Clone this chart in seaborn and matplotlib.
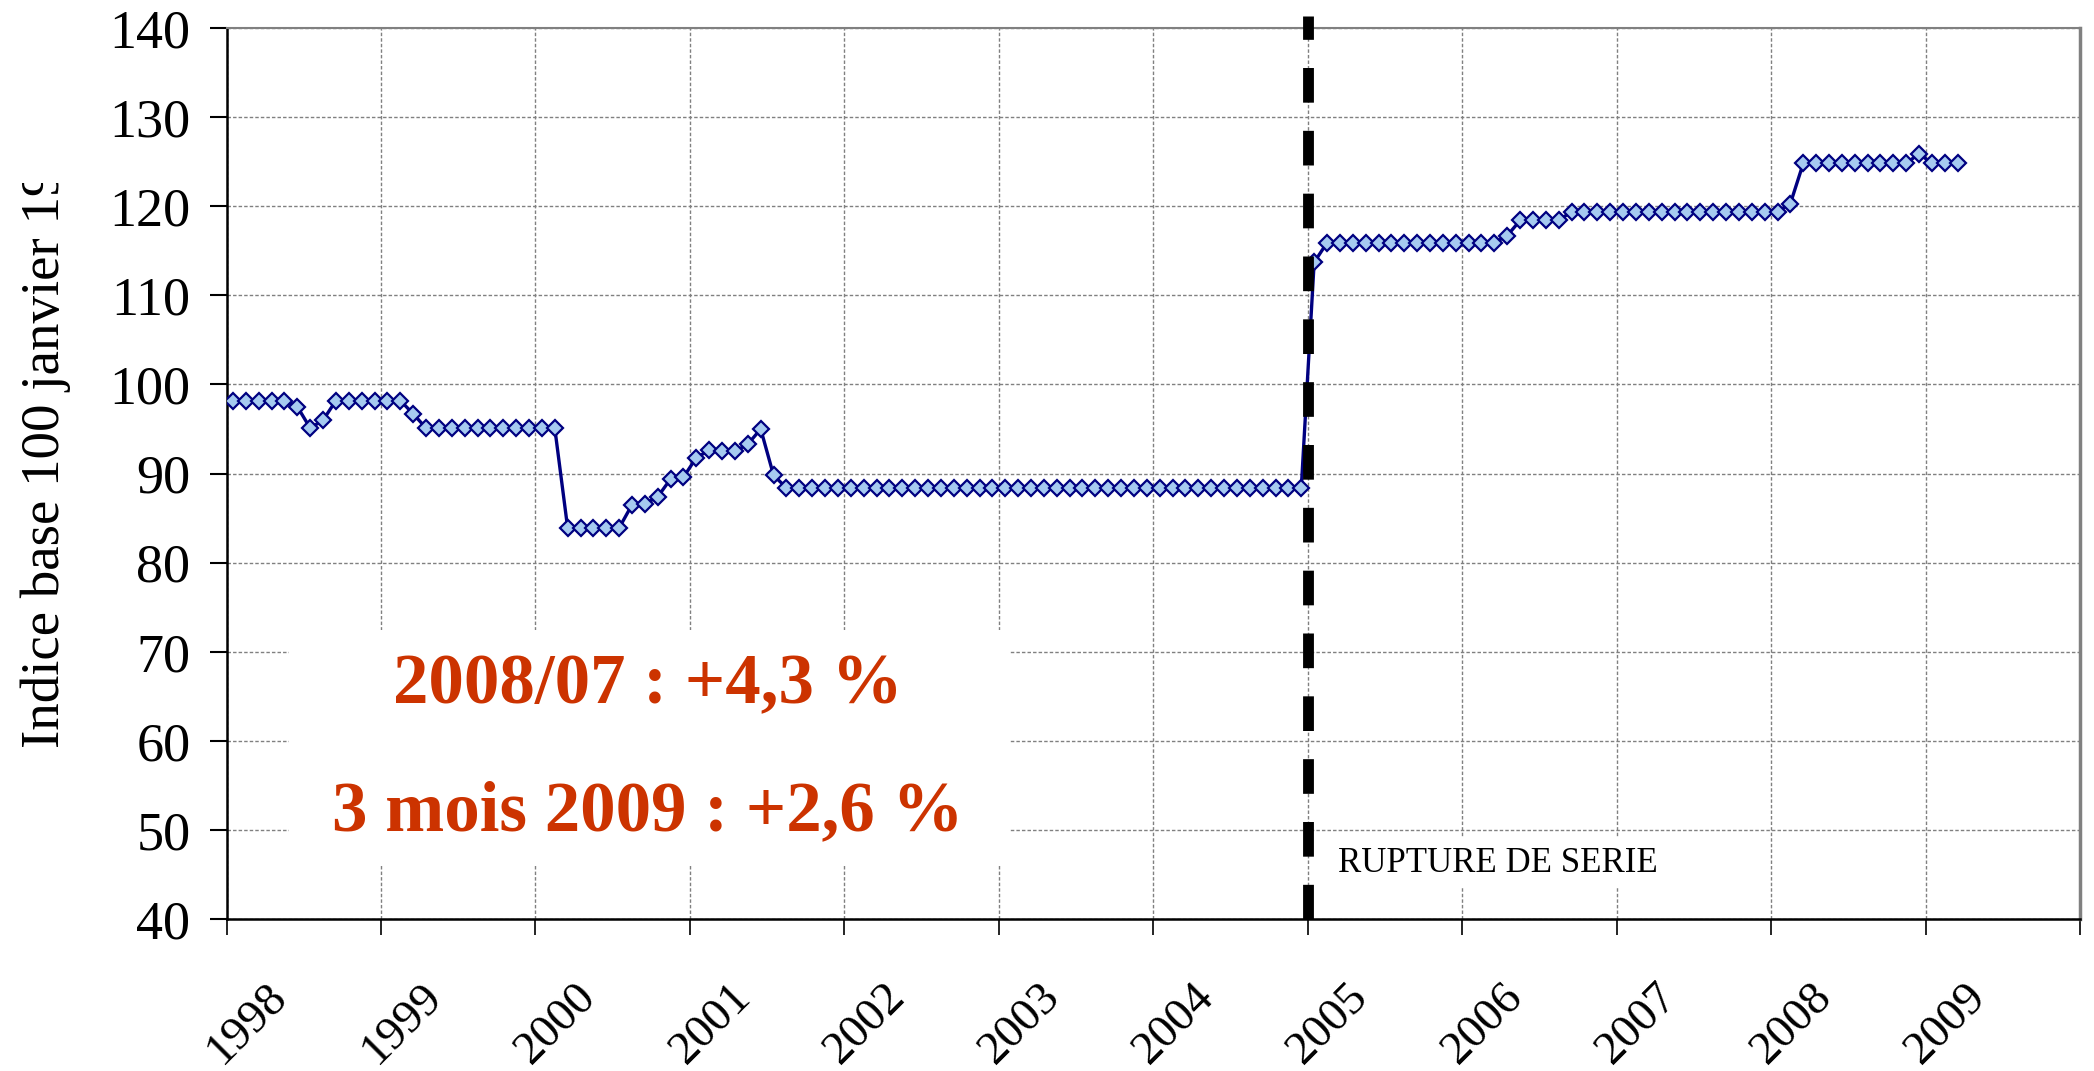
import matplotlib
matplotlib.use('Agg')
import numpy as np
import pandas as pd
import matplotlib.pyplot as plt
import seaborn as sns
from matplotlib.patches import Rectangle
from matplotlib.transforms import Bbox, TransformedBbox, ScaledTranslation

# Indice mensuel (base 100 janvier 1998), une liste par année
values_1998 = [98.2, 98.2, 98.2, 98.2, 98.2, 97.5, 95.1, 96.0, 98.2, 98.2, 98.2, 98.2]
values_1999 = [98.2, 98.2, 96.7, 95.1, 95.1, 95.1, 95.1, 95.1, 95.1, 95.1, 95.1, 95.1]
values_2000 = [95.1, 95.1, 83.9, 83.9, 83.9, 83.9, 83.9, 86.5, 86.6, 87.4, 89.4, 89.6]
values_2001 = [91.8, 92.6, 92.5, 92.5, 93.3, 95.0, 89.8, 88.4, 88.4, 88.4, 88.4, 88.4]
values_2002 = [88.4, 88.4, 88.4, 88.4, 88.4, 88.4, 88.4, 88.4, 88.4, 88.4, 88.4, 88.4]
values_2003 = [88.4, 88.4, 88.4, 88.4, 88.4, 88.4, 88.4, 88.4, 88.4, 88.4, 88.4, 88.4]
values_2004 = [88.4, 88.4, 88.4, 88.4, 88.4, 88.4, 88.4, 88.4, 88.4, 88.4, 88.4, 88.4]
values_2005 = [113.7, 115.9, 115.9, 115.9, 115.9, 115.9, 115.9, 115.9, 115.9, 115.9, 115.9, 115.9]
values_2006 = [115.9, 115.9, 115.9, 116.7, 118.4, 118.4, 118.4, 118.4, 119.4, 119.4, 119.4, 119.4]
values_2007 = [119.4, 119.4, 119.4, 119.4, 119.4, 119.4, 119.4, 119.4, 119.4, 119.4, 119.4, 119.4]
values_2008 = [119.4, 120.3, 124.8, 124.8, 124.8, 124.8, 124.8, 124.8, 124.8, 124.8, 124.8, 125.9]
values_2009 = [124.8, 124.8, 124.8]

years = list(range(1998, 2010))
year_labels = ['1998', '1999', '2000', '2001', '2002', '2003', '2004',
               '2005', '2006', '2007', '2008', '2009']
rupture_year = 2005

line1 = '2008/07 : +4,3 %'
line2 = '3 mois 2009 : +2,6 %'
ylabel = 'Indice base 100 janvier 1998'

series = [values_1998, values_1999, values_2000, values_2001, values_2002, values_2003,
          values_2004, values_2005, values_2006, values_2007, values_2008, values_2009]

rows = []
for y, vals in zip(years, series):
    for m, v in enumerate(vals, start=1):
        # chaque mois est centré dans sa catégorie (axe Excel "entre graduations")
        rows.append({'x': y + (m - 0.5) / 12, 'indice': v})
df = pd.DataFrame(rows)

sns.set_style('white')
plt.rcParams['font.family'] = ['Liberation Serif', 'DejaVu Serif']
plt.rcParams['text.color'] = 'black'
plt.rcParams['xtick.color'] = 'black'
plt.rcParams['ytick.color'] = 'black'

fig, ax = plt.subplots(figsize=(20.94, 10.71), dpi=100)
fig.subplots_adjust(left=0.1082, right=0.9933, top=0.9739, bottom=0.1417)

sns.lineplot(data=df, x='x', y='indice', ax=ax, color='#000080', linewidth=2.4,
             marker='D', markersize=8.6, markerfacecolor='#A6CAF0',
             markeredgecolor='#000080', markeredgewidth=1.6, zorder=3)

ax.set_xlim(1998, 2010)
ax.set_ylim(40, 140)
ax.set_yticks(np.arange(40, 141, 10))
ax.set_xticks(np.arange(1998, 2011))
ax.set_xticklabels(year_labels + [''])
ax.set_xlabel('')
ax.set_ylabel('')

ax.set_axisbelow(True)
ax.grid(True, color='#808080', linestyle=(0, (2.5, 1.5)), linewidth=1.0)

for side in ['left', 'bottom']:
    ax.spines[side].set_color('black')
    ax.spines[side].set_linewidth(1.8)
ax.spines['top'].set_color('#808080')
ax.spines['top'].set_linewidth(1.5)
ax.spines['right'].set_color('#808080')
ax.spines['right'].set_linewidth(2.5)

ax.tick_params(axis='y', which='major', direction='out', length=12, width=1.5,
               pad=14, labelsize=39, left=True, colors='black')
ax.tick_params(axis='x', which='major', direction='out', length=11.5, width=1.2,
               pad=64, labelsize=34, bottom=True, colors='black')
for lab in ax.get_xticklabels():
    lab.set_rotation(45)
    lab.set_rotation_mode('anchor')
    lab.set_ha('center')
    lab.set_va('center')

# rupture de série
ax.axvline(rupture_year, ymin=0, ymax=1.0135, color='black', linewidth=7.8,
           linestyle=(0, (3.2, 2.6)), clip_on=False, zorder=4)
ax.text(0.6857, 0.063, 'RUPTURE DE SERIE', transform=ax.transAxes, fontsize=25,
        ha='center', va='center', zorder=5, color='black',
        bbox=dict(facecolor='white', edgecolor='none', pad=6))

# encadré des évolutions
ax.add_patch(Rectangle((0.0337, 0.061), 0.3884, 0.264, transform=ax.transAxes,
                       facecolor='white', edgecolor='none', zorder=1.5))
ax.text(0.2274, 0.262, line1, transform=ax.transAxes, fontsize=51, fontweight='bold',
        color='#CC3300', ha='center', va='center', zorder=5)
ax.text(0.2274, 0.120, line2, transform=ax.transAxes, fontsize=51, fontweight='bold',
        color='#CC3300', ha='center', va='center', zorder=5)

# titre de l'axe, tronqué en haut comme dans l'original
yl = fig.text(46 / 2094, 1 - 748 / 1071, ylabel, rotation=90, fontsize=39.5,
              ha='center', va='bottom', color='black')
yl.set_clip_box(TransformedBbox(Bbox.from_extents(0, 0, 1, 1 - 183 / 1071), fig.transFigure))
yl.set_clip_on(True)

fig.canvas.draw()
shift = ScaledTranslation(21 / 100, 0, fig.dpi_scale_trans)
for lab in ax.get_xticklabels():
    lab.set_transform(lab.get_transform() + shift)

fig.savefig('out.png', dpi=100)
